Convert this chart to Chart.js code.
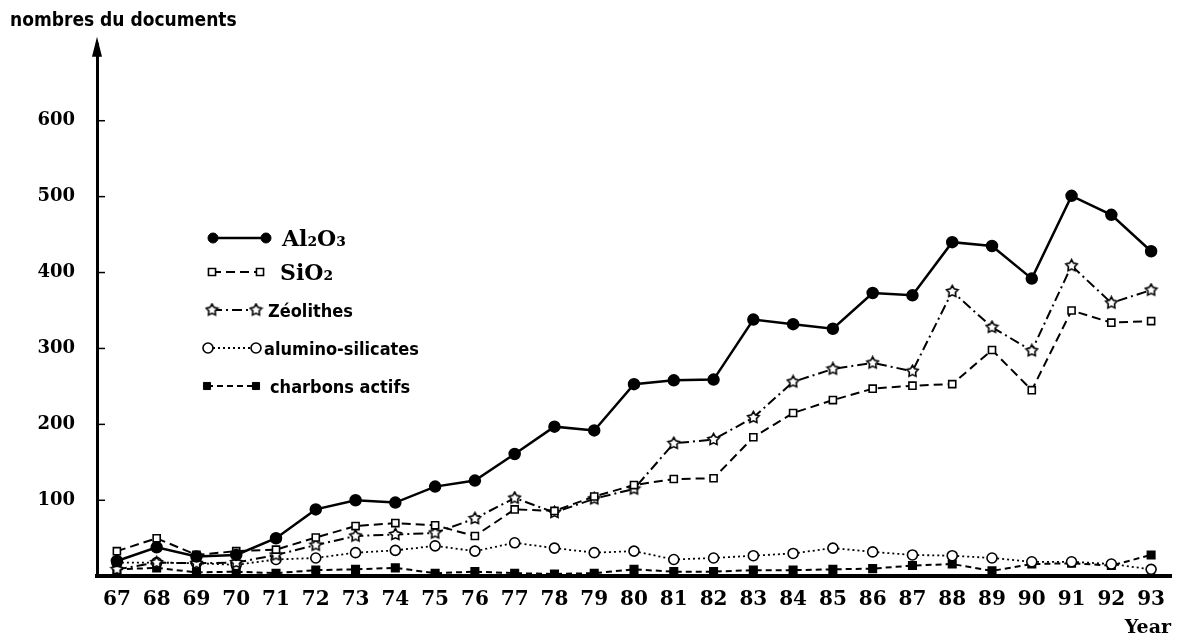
<!DOCTYPE html>
<html>
<head>
<meta charset="utf-8">
<script src="https://cdn.jsdelivr.net/npm/chart.js@4/dist/chart.umd.min.js"></script>
<style>
    html, body { margin: 0; padding: 0; background: #fff; }
    #wrap { width: 1180px; height: 643px; position: relative; }
</style>
</head>
<body>
<div id="wrap"><canvas id="docsGraph"></canvas></div>
<script>
var years = ["67", "68", "69", "70", "71", "72", "73", "74", "75", "76", "77", "78", "79", "80",
    "81", "82", "83", "84", "85", "86", "87", "88", "89", "90", "91", "92", "93"];
var yTicks = [100, 200, 300, 400, 500, 600];

var al2o3 = [20, 38, 26, 28, 50, 88, 100, 97, 118, 126, 161, 197, 192, 253, 258, 259, 338, 332, 326, 373, 370, 440, 435, 392, 501, 476, 428];
var sio2 = [33, 50, 28, 33, 35, 51, 66, 70, 67, 53, 88, 86, 105, 120, 128, 129, 183, 215, 232, 247, 251, 253, 298, 245, 350, 334, 336];
var zeolithes = [9, 18, 17, 18, 28, 41, 53, 55, 57, 76, 103, 84, 102, 115, 175, 180, 209, 256, 273, 281, 270, 375, 328, 297, 409, 360, 377];
var aluminoSilicates = [18, 18, 17, 15, 22, 24, 31, 34, 40, 33, 44, 37, 31, 33, 22, 24, 27, 30, 37, 32, 28, 27, 24, 19, 19, 16, 9];
var charbonsActifs = [9, 11, 5, 6, 4, 8, 9, 11, 4, 6, 4, 3, 4, 9, 6, 6, 8, 8, 9, 10, 14, 16, 7, 16, 17, 14, 28];

var serifBold = "'DejaVu Serif', 'Liberation Serif', serif";
var narrowBold = "'Liberation Sans Narrow', 'DejaVu Sans Condensed', 'Roboto', 'Noto Sans', sans-serif";

// open five-point star used as marker for the zeolithes
function make_star(size) {
    var c = document.createElement("canvas");
    c.width = size;
    c.height = size;
    var ctx = c.getContext("2d");
    ctx.beginPath();
    for (var i = 0; i < 10; i++) {
        var r = i % 2 == 0 ? size / 2 - 1.5 : size / 4.6;
        var a = -Math.PI / 2 + i * Math.PI / 5;
        ctx.lineTo(size / 2 + r * Math.cos(a), size / 2 + r * Math.sin(a));
    }
    ctx.closePath();
    ctx.fillStyle = "#fff";
    ctx.fill();
    ctx.lineWidth = 1.6;
    ctx.strokeStyle = "#000";
    ctx.stroke();
    return c;
}
var starMarker = make_star(15);

var datasets = [
    { label: "Al₂O₃", data: al2o3, borderColor: "#000", backgroundColor: "#000", borderWidth: 2.5,
      borderDash: [], pointStyle: "circle", pointRadius: 5, legendFont: "bold 22px " + serifBold },
    { label: "SiO₂", data: sio2, borderColor: "#000", backgroundColor: "#fff", borderWidth: 2,
      borderDash: [9, 5], pointStyle: "rect", pointRadius: 5, pointBorderWidth: 1.6, legendFont: "bold 22px " + serifBold },
    { label: "Zéolithes", data: zeolithes, borderColor: "#000", backgroundColor: "#fff", borderWidth: 2,
      borderDash: [10, 4, 2, 4], pointStyle: starMarker, pointRadius: 7, legendFont: "bold 18px " + narrowBold },
    { label: "alumino-silicates", data: aluminoSilicates, borderColor: "#000", backgroundColor: "#fff", borderWidth: 1.8,
      borderDash: [2, 3], pointStyle: "circle", pointRadius: 5, pointBorderWidth: 1.6, legendFont: "bold 18px " + narrowBold },
    { label: "charbons actifs", data: charbonsActifs, borderColor: "#000", backgroundColor: "#000", borderWidth: 2,
      borderDash: [6, 4], pointStyle: "rect", pointRadius: 5, legendFont: "bold 18px " + narrowBold },
];
for (ds of datasets) {
    ds.tension = 0;
    ds.pointBackgroundColor = ds.backgroundColor;
    ds.pointBorderColor = "#000";
}

// arrow on the y axis, ticks on the inner side and the legend inside the plot
var decorPlugin = {
    id: "decor",
    afterDraw(chart) {
        var ctx = chart.ctx;
        var area = chart.chartArea;
        var yScale = chart.scales.y;
        ctx.save();
        ctx.fillStyle = "#000";
        ctx.strokeStyle = "#000";
        ctx.beginPath();
        ctx.moveTo(area.left, area.top - 8);
        ctx.lineTo(area.left - 5, area.top + 12);
        ctx.lineTo(area.left + 5, area.top + 12);
        ctx.closePath();
        ctx.fill();
        ctx.lineWidth = 1.5;
        for (v of yTicks) {
            var py = yScale.getPixelForValue(v);
            ctx.beginPath();
            ctx.moveTo(area.left, py);
            ctx.lineTo(area.left + 8, py);
            ctx.stroke();
        }
        var rowY = [238, 272, 310, 348, 386];
        var lineX = [[213, 266], [212, 260], [212, 256], [208, 256], [207, 256]];
        var textX = [282, 280, 268, 264, 270];
        chart.data.datasets.forEach(function (ds, i) {
            var y = rowY[i];
            ctx.setLineDash(ds.borderDash);
            ctx.lineWidth = ds.borderWidth;
            ctx.beginPath();
            ctx.moveTo(lineX[i][0], y);
            ctx.lineTo(lineX[i][1], y);
            ctx.stroke();
            ctx.setLineDash([]);
            ctx.fillStyle = ds.backgroundColor;
            ctx.lineWidth = ds.pointBorderWidth || 1;
            var opts = { pointStyle: ds.pointStyle, radius: ds.pointRadius, rotation: 0, borderWidth: ctx.lineWidth };
            Chart.helpers.drawPoint(ctx, opts, lineX[i][0], y);
            Chart.helpers.drawPoint(ctx, opts, lineX[i][1], y);
            ctx.fillStyle = "#000";
            ctx.font = ds.legendFont;
            ctx.textBaseline = "middle";
            ctx.fillText(ds.label, textX[i], y + 2);
        });
        ctx.restore();
    },
};

var config = {
    type: "line",
    data: { labels: years, datasets: datasets },
    options: {
        responsive: true,
        maintainAspectRatio: false,
        animation: false,
        layout: { padding: { left: 10, right: 0, top: 6, bottom: 4 } },
        plugins: {
            legend: { display: false },
            tooltip: { enabled: false },
            title: {
                display: true,
                text: "nombres du documents",
                align: "start",
                color: "#000",
                font: { family: narrowBold, size: 19, weight: "bold" },
                padding: { top: 4, bottom: 12 },
            },
        },
        scales: {
            x: {
                type: "category",
                offset: true,
                grid: { display: false },
                border: { display: true, color: "#000", width: 4 },
                ticks: {
                    color: "#000",
                    padding: 4,
                    maxRotation: 0,
                    autoSkip: false,
                    font: { family: serifBold, size: 20, weight: "bold" },
                },
                title: {
                    display: true,
                    text: "Year",
                    align: "end",
                    color: "#000",
                    padding: { top: 0, bottom: 0 },
                    font: { family: serifBold, size: 19, weight: "bold" },
                },
            },
            y: {
                min: 0,
                max: 700,
                afterFit: function (scale) {
                    scale.width = 87;
                },
                grid: { display: false },
                border: { display: true, color: "#000", width: 3 },
                ticks: {
                    stepSize: 100,
                    color: "#000",
                    padding: 14,
                    font: { family: serifBold, size: 18, weight: "bold" },
                    callback: function (value) {
                        return yTicks.includes(value) ? value : "";
                    },
                },
            },
        },
    },
    plugins: [decorPlugin],
};

var docsGraph = new Chart("docsGraph", config);
</script>
</body>
</html>
